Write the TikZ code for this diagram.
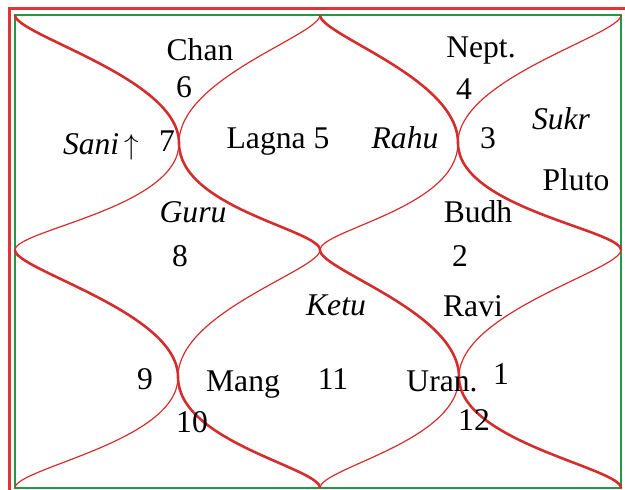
\documentclass[tikz,border=0pt]{standalone}
\usepackage{fontspec}
\setmainfont{Liberation Serif}
\usepackage{tikz}
\definecolor{chart-red}{RGB}{212,45,45}
\definecolor{frame-red}{RGB}{226,52,52}
\definecolor{frame-green}{RGB}{36,150,72}

\begin{document}
\begin{tikzpicture}[
    x=0.5pt, y=-0.5pt,
    txt/.style={anchor=base, inner sep=0pt, font=\fontsize{15.8}{18}\selectfont},
    graha/.style={txt, font=\fontsize{15.8}{18}\selectfont\itshape},
    bold line/.style={draw=chart-red, line width=1.3pt},
    thin line/.style={draw=chart-red, line width=0.6pt}
]
\clip (0,0) rectangle (625,490);

% Rahmen
\draw[frame-red, line width=1.5pt] (9,505) -- (9,8.5) -- (640,8.5);
\draw[frame-green, line width=1pt] (15,15) rectangle (621,488);

% Punkte
\coordinate (tl) at (15,15);
\coordinate (tm) at (320,15);
\coordinate (tr) at (621,15);
\coordinate (ml) at (15,250);
\coordinate (c)  at (320,250);
\coordinate (mr) at (621,250);
\coordinate (bl) at (15,488);
\coordinate (bm) at (320,488);
\coordinate (br) at (621,488);
\coordinate (p1) at (179,143);
\coordinate (p2) at (458,143);
\coordinate (p3) at (178,377);
\coordinate (p4) at (459,377);

% Kurven
\draw[thin line] (tm) .. controls +(0,20) and +(0,-65) .. (p1) .. controls +(0,65) and +(0,-20) .. (ml);
\draw[thin line] (tr) .. controls +(0,20) and +(0,-65) .. (p2) .. controls +(0,65) and +(0,-20) .. (c);
\draw[thin line] (c) .. controls +(0,20) and +(0,-65) .. (p3) .. controls +(0,65) and +(0,-20) .. (bl);
\draw[thin line] (mr) .. controls +(0,20) and +(0,-65) .. (p4) .. controls +(0,65) and +(0,-20) .. (bm);
\draw[bold line] (tl) .. controls +(0,20) and +(0,-65) .. (p1) .. controls +(0,65) and +(0,-20) .. (c);
\draw[bold line] (tm) .. controls +(0,20) and +(0,-65) .. (p2) .. controls +(0,65) and +(0,-20) .. (mr);
\draw[bold line] (ml) .. controls +(0,20) and +(0,-65) .. (p3) .. controls +(0,65) and +(0,-20) .. (bm);
\draw[bold line] (c) .. controls +(0,20) and +(0,-65) .. (p4) .. controls +(0,65) and +(0,-20) .. (br);

% Grahas und Haeuser
\node[txt] (chan) at (200,61) {Chan};
\node[txt] (h6) at (184,98) {6};
\node[txt] (sani) at (101,155) {\textit{Sani}\,$\uparrow$};
\node[txt] (h7) at (167,152) {7};
\node[txt] (lagna) at (278,149) {Lagna 5};
\node[graha] (rahu) at (405,149) {Rahu};
\node[txt] (h3) at (488,149) {3};
\node[txt] (nept) at (481,58) {Nept.};
\node[txt] (h4) at (464,100) {4};
\node[graha] (sukr) at (561,130) {Sukr};
\node[txt] (pluto) at (576,191) {Pluto};
\node[txt] (budh) at (478,223) {Budh};
\node[graha] (guru) at (193,223) {Guru};
\node[txt] (h8) at (180,267) {8};
\node[txt] (h2) at (460,267) {2};
\node[graha] (ketu) at (336,316) {Ketu};
\node[txt] (ravi) at (473,317) {Ravi};
\node[txt] (h9) at (145,390) {9};
\node[txt] (mang) at (243,392) {Mang};
\node[txt] (h10) at (192,433) {10};
\node[txt] (h11) at (333,390) {11};
\node[txt] (uran) at (442,392) {Uran.};
\node[txt] (h1) at (501,385) {1};
\node[txt] (h12) at (474,431) {12};

\end{tikzpicture}
\end{document}
